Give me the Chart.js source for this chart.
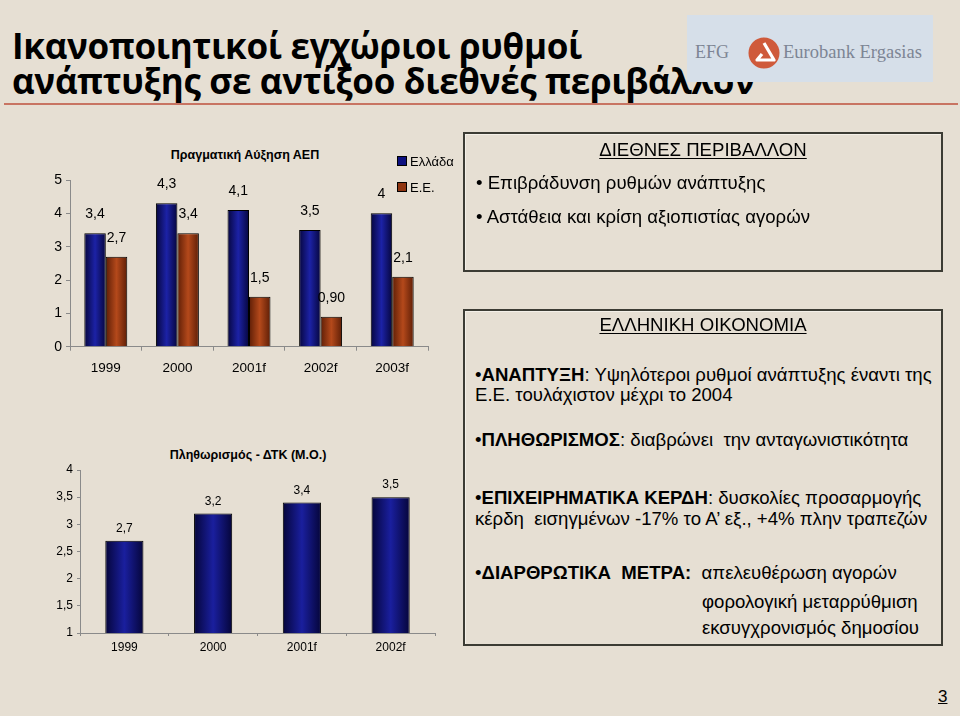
<!DOCTYPE html>
<html lang="el">
<head>
<meta charset="utf-8">
<title>Ικανοποιητικοί εγχώριοι ρυθμοί ανάπτυξης</title>
<script src="https://cdn.jsdelivr.net/npm/chart.js@4.4.1/dist/chart.umd.min.js"></script>
<style>
  html, body { margin: 0; padding: 0; }
  body { width: 960px; height: 716px; background: #e6dfd3; position: relative; overflow: hidden;
         font-family: "Liberation Sans", Arial, sans-serif; color: #000; }
  .abs { position: absolute; white-space: pre; }
  .title { left: 12px; font-family: "Open Sans", sans-serif; font-weight: 700; font-size: 35px; line-height: 37px; letter-spacing: -0.3px; }
  .rule { position: absolute; left: 4px; right: 2px; top: 103px; height: 2px; background: #c87462; }
  .logo { position: absolute; left: 687px; top: 15px; width: 246px; height: 67px; background: #d6dfe9; }
  .box { position: absolute; border: 2px solid #3c3c34; box-shadow: inset 1px 1px 0 #f4f0e8; }
  .line { position: absolute; font-size: 18.6px; line-height: 20px; white-space: pre; }
  .head { text-decoration: underline; text-underline-offset: 2px; }
  .chartbox { position: absolute; }
  .ctitle { position: absolute; width: 300px; text-align: center; font-weight: 700; font-size: 12.5px; line-height: 16px; white-space: pre; }
  .legend { position: absolute; font-size: 13px; line-height: 16px; }
  .legend i { display: inline-block; width: 8px; height: 8px; border: 1px solid #000; margin-right: 3px; vertical-align: 0px; }
</style>
</head>
<body>

<div class="abs title" style="top:27px">Ικανοποιητικοί εγχώριοι ρυθμοί</div>
<div class="abs title" style="top:62px">ανάπτυξης σε αντίξοο διεθνές περιβάλλον</div>
<div class="rule"></div>

<div class="logo">
  <div class="abs" style="left:8px; top:27px; font-family:'Liberation Serif',serif; font-size:18px; color:#7d8594; line-height:20px">EFG</div>
  <svg class="abs" style="left:61px; top:22px" width="32" height="32" viewBox="0 0 32 32">
    <circle cx="16" cy="16" r="15.5" fill="#cf5a3b"/>
    <path d="M16 6 L26 23 L9 23 L14 17" fill="none" stroke="#fff" stroke-width="3.2" stroke-linejoin="round"/>
  </svg>
  <div class="abs" style="left:96px; top:27px; font-family:'Liberation Serif',serif; font-size:18.5px; color:#7d8594; line-height:20px">Eurobank Ergasias</div>
</div>

<!-- growth chart -->
<div class="ctitle" style="left:95px; top:147px">Πραγματική Αύξηση ΑΕΠ</div>
<div class="chartbox" style="left:40px; top:140px; width:420px; height:250px"><canvas id="gdpChart"></canvas></div>
<div class="legend" style="left:397px; top:154px"><i style="background:#0d1180"></i>Ελλάδα</div>
<div class="legend" style="left:397px; top:180px"><i style="background:#8f3511"></i>Ε.Ε.</div>

<!-- inflation chart -->
<div class="ctitle" style="left:98px; top:447px">Πληθωρισμός - ΔΤΚ (Μ.Ο.)</div>
<div class="chartbox" style="left:40px; top:440px; width:400px; height:230px"><canvas id="cpiChart"></canvas></div>

<!-- text boxes -->
<div class="box" style="left:463px; top:132px; width:476px; height:136px"></div>
<div class="line head" style="left:0; width:1406px; text-align:center; top:140px">ΔΙΕΘΝΕΣ ΠΕΡΙΒΑΛΛΟΝ</div>
<div class="line" style="left:476px; top:173px">• Επιβράδυνση ρυθμών ανάπτυξης</div>
<div class="line" style="left:476px; top:207px">• Αστάθεια και κρίση αξιοπιστίας αγορών</div>

<div class="box" style="left:463px; top:309px; width:476px; height:333px"></div>
<div class="line head" style="left:0; width:1406px; text-align:center; top:315px">ΕΛΛΗΝΙΚΗ ΟΙΚΟΝΟΜΙΑ</div>
<div class="line" style="left:475px; top:365px">•<b>ΑΝΑΠΤΥΞΗ</b>: Υψηλότεροι ρυθμοί ανάπτυξης έναντι της</div>
<div class="line" style="left:475px; top:385px">Ε.Ε. τουλάχιστον μέχρι το 2004</div>
<div class="line" style="left:475px; top:430px">•<b>ΠΛΗΘΩΡΙΣΜΟΣ</b>: διαβρώνει  την ανταγωνιστικότητα</div>
<div class="line" style="left:475px; top:488px">•<b>ΕΠΙΧΕΙΡΗΜΑΤΙΚΑ ΚΕΡΔΗ</b>: δυσκολίες προσαρμογής</div>
<div class="line" style="left:475px; top:509px">κέρδη  εισηγμένων -17% το Α’ εξ., +4% πλην τραπεζών</div>
<div class="line" style="left:475px; top:563px">•<b>ΔΙΑΡΘΡΩΤΙΚΑ  ΜΕΤΡΑ:</b>  απελευθέρωση αγορών</div>
<div class="line" style="left:702px; top:592px">φορολογική μεταρρύθμιση</div>
<div class="line" style="left:702px; top:618px">εκσυγχρονισμός δημοσίου</div>

<div class="line" style="left:938px; top:687px; font-size:17px; text-decoration:underline">3</div>

<script>
// growth chart data
const years = ['1999', '2000', '2001f', '2002f', '2003f'];
const greeceGrowth = [3.4, 4.3, 4.1, 3.5, 4];
const euGrowth = [2.7, 3.4, 1.5, 0.9, 2.1];
const euGrowthText = ['2,7', '3,4', '1,5', '0,90', '2,1'];
const growthTicks = [0, 1, 2, 3, 4, 5];

// inflation chart data
const cpiYears = ['1999', '2000', '2001f', '2002f'];
const inflation = [2.7, 3.2, 3.4, 3.5];
const cpiTicks = [1, 1.5, 2, 2.5, 3, 3.5, 4];

const FONT = '"Liberation Sans", Arial, sans-serif';
const commaNum = v => String(v).replace('.', ',');

// horizontal shading on each bar, like the old excel bars
function barShade(dark, light) {
    return (c) => {
        if (c.type !== 'data') return dark;
        const el = c.chart.getDatasetMeta(c.datasetIndex).data[c.dataIndex];
        if (!el || !el.width || isNaN(el.x)) return dark;
        const g = c.chart.ctx.createLinearGradient(el.x - el.width / 2, 0, el.x + el.width / 2, 0);
        g.addColorStop(0, dark);
        g.addColorStop(0.5, light);
        g.addColorStop(1, dark);
        return g;
    };
}

// value labels above the bars
const barLabels = {
    id: 'barLabels',
    afterDatasetsDraw(chart, args, opts) {
        const ctx = chart.ctx;
        ctx.save();
        ctx.font = opts.font;
        ctx.fillStyle = '#000';
        ctx.textAlign = 'center';
        ctx.textBaseline = 'middle';
        chart.data.datasets.forEach((ds, i) => {
            chart.getDatasetMeta(i).data.forEach((bar, j) => {
                const txt = ds.valueText ? ds.valueText[j] : commaNum(ds.data[j]);
                ctx.fillText(txt, bar.x, bar.y - opts.offset);
            });
        });
        ctx.restore();
    }
};

const axisColor = '#8a8a8a';

const gdpChart = new Chart(document.getElementById('gdpChart'), {
    type: 'bar',
    data: {
        labels: years,
        datasets: [{
            label: 'Ελλάδα',
            data: greeceGrowth,
            backgroundColor: barShade('#06063e', '#1c22a6'),
            borderColor: '#000',
            borderWidth: 1,
            borderSkipped: 'bottom'
        }, {
            label: 'Ε.Ε.',
            data: euGrowth,
            valueText: euGrowthText,
            backgroundColor: barShade('#5e1e06', '#b4491b'),
            borderColor: '#000',
            borderWidth: 1,
            borderSkipped: 'bottom'
        }]
    },
    options: {
        responsive: true,
        maintainAspectRatio: false,
        animation: false,
        layout: { padding: { top: 40, right: 32 } },
        datasets: { bar: { barPercentage: 1, categoryPercentage: 0.6 } },
        plugins: {
            legend: { display: false },
            tooltip: { enabled: false },
            barLabels: { font: '14px ' + FONT, offset: 19 }
        },
        scales: {
            x: {
                afterFit: s => { s.height = 43.3; },
                grid: { drawOnChartArea: false, tickLength: 4, color: axisColor },
                border: { color: axisColor },
                ticks: { color: '#000', padding: 9, font: { family: FONT, size: 13.5 } }
            },
            y: {
                min: 0,
                max: 5,
                afterFit: s => { s.width = 30; },
                afterBuildTicks: s => { s.ticks = growthTicks.map(v => ({ value: v })); },
                grid: { drawOnChartArea: false, tickLength: 4, color: axisColor },
                border: { color: axisColor },
                ticks: { color: '#000', padding: 4, font: { family: FONT, size: 14 }, callback: commaNum }
            }
        }
    },
    plugins: [barLabels]
});
gdpChart.update('none');

const cpiChart = new Chart(document.getElementById('cpiChart'), {
    type: 'bar',
    data: {
        labels: cpiYears,
        datasets: [{
            label: 'Πληθωρισμός',
            data: inflation,
            backgroundColor: barShade('#05053a', '#1a1f9e'),
            borderColor: '#000',
            borderWidth: 1,
            borderSkipped: 'bottom'
        }]
    },
    options: {
        responsive: true,
        maintainAspectRatio: false,
        animation: false,
        layout: { padding: { top: 30, right: 5 } },
        datasets: { bar: { barPercentage: 1, categoryPercentage: 0.43 } },
        plugins: {
            legend: { display: false },
            tooltip: { enabled: false },
            barLabels: { font: '12px ' + FONT, offset: 12 }
        },
        scales: {
            x: {
                afterFit: s => { s.height = 37; },
                grid: { drawOnChartArea: false, tickLength: 3, color: axisColor },
                border: { color: axisColor },
                ticks: { color: '#000', padding: 4, font: { family: FONT, size: 12 } }
            },
            y: {
                min: 1,
                max: 4,
                afterFit: s => { s.width = 40; },
                afterBuildTicks: s => { s.ticks = cpiTicks.map(v => ({ value: v })); },
                grid: { drawOnChartArea: false, tickLength: 3, color: axisColor },
                border: { color: axisColor },
                ticks: { color: '#000', padding: 4, font: { family: FONT, size: 12 }, callback: commaNum }
            }
        }
    },
    plugins: [barLabels]
});
cpiChart.update('none');
</script>
</body>
</html>
